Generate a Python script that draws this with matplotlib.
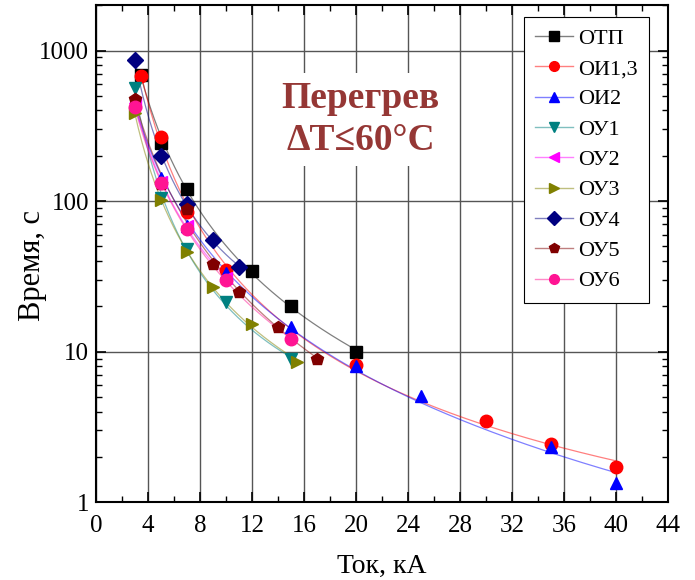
import matplotlib.pyplot as plt
import numpy as np
from matplotlib.colors import to_rgba
from matplotlib.ticker import MultipleLocator, FixedLocator, LogLocator, NullFormatter

plt.rcParams['font.family'] = ['Liberation Serif', 'DejaVu Serif']

# current, kA / time, s
otp_x = [3.5, 5, 7, 12, 15, 20]
otp_y = [690, 245, 121, 34.5, 20, 10]
oi13_x = [3.5, 5, 7, 10, 20, 30, 35, 40]
oi13_y = [680, 265, 85, 35, 8.2, 3.45, 2.45, 1.72]
oi2_x = [3, 5, 7, 10, 15, 20, 25, 35, 40]
oi2_y = [460, 142, 68, 33.5, 14.5, 8.0, 5.05, 2.32, 1.34]
oy1_x = [3, 5, 7, 10, 15]
oy1_y = [560, 105, 48, 21.5, 8.9]
oy2_x = [3, 5, 7, 10]
oy2_y = [450, 135, 68, 31]
oy3_x = [3, 5, 7, 9, 12, 15.5]
oy3_y = [385, 101, 46, 27, 15.2, 8.5]
oy4_x = [3, 5, 7, 9, 11]
oy4_y = [870, 200, 95, 55, 36.5]
oy5_x = [3, 5, 7, 9, 11, 14, 17]
oy5_y = [480, 130, 88, 38, 25, 14.7, 9.0]
oy6_x = [3, 5, 7, 10, 15]
oy6_y = [420, 131, 65, 30, 12.1]

series = [
    ('ОТП', otp_x, otp_y, 'black', 's'),
    ('ОИ1,3', oi13_x, oi13_y, 'red', 'o'),
    ('ОИ2', oi2_x, oi2_y, 'blue', '^'),
    ('ОУ1', oy1_x, oy1_y, '#008080', 'v'),
    ('ОУ2', oy2_x, oy2_y, '#ff00ff', '<'),
    ('ОУ3', oy3_x, oy3_y, '#808000', '>'),
    ('ОУ4', oy4_x, oy4_y, '#000080', 'D'),
    ('ОУ5', oy5_x, oy5_y, '#800000', 'p'),
    ('ОУ6', oy6_x, oy6_y, '#ff1493', 'o'),
]

fig = plt.figure(figsize=(6.95, 5.8), dpi=100)
ax = fig.add_axes([0.138, 0.134, 0.823, 0.857])
ax.set_yscale('log')

for name, x, y, c, m in series:
    x = np.array(x, dtype=float)
    y = np.array(y, dtype=float)
    lc = to_rgba(c, 0.5)
    # smooth fit line (quadratic in log-log)
    p = np.polyfit(np.log(x), np.log(y), 2)
    xx = np.linspace(x.min(), x.max(), 200)
    ax.plot(xx, np.exp(np.polyval(p, np.log(xx))), color=lc, lw=0.9, zorder=2)
    ax.plot(x, y, ls='none', marker=m, color=c, ms=9 if m != 'D' else 8, zorder=3)
    ax.plot([], [], color=lc, lw=1, marker=m, mfc=c, mec=c, ms=7, label=name)

ax.set_xlim(0, 44)
ax.set_ylim(1, 2000)
ax.xaxis.set_major_locator(MultipleLocator(4))
ax.xaxis.set_minor_locator(MultipleLocator(2))
ax.yaxis.set_major_locator(FixedLocator([1, 10, 100, 1000]))
ax.yaxis.set_minor_locator(LogLocator(base=10, subs=np.arange(2, 10)))
ax.yaxis.set_minor_formatter(NullFormatter())
ax.set_yticklabels(['1', '10', '100', '1000'])
ax.tick_params(which='both', direction='in', top=True, right=True, labelsize=18)
ax.tick_params(which='major', length=7, width=1.2, pad=5)
ax.tick_params(axis='x', which='major', pad=9)
ax.tick_params(which='minor', length=4, width=1)
ax.grid(True, which='major', color='#555555', lw=1)
for s in ax.spines.values():
    s.set_linewidth(1.5)

ax.set_xlabel('Ток, кА', fontsize=20, labelpad=12)
ax.set_ylabel('Время, с', fontsize=22)
ax.yaxis.set_label_coords(-0.086, 0.477)

ax.text(0.463, 0.77, 'Перегрев\nΔT≤60°C', transform=ax.transAxes, fontsize=27,
        fontweight='bold', color='#953735', ha='center', va='center', linespacing=1.25,
        bbox=dict(facecolor='white', edgecolor='none', pad=6), zorder=4)

leg = ax.legend(loc='upper right', bbox_to_anchor=(0.967, 0.976), borderaxespad=0,
                fontsize=16, frameon=True, fancybox=False, edgecolor='black',
                framealpha=1, handlelength=1.7, labelspacing=0.44, borderpad=0.5,
                handletextpad=0.25)
leg.get_frame().set_linewidth(0.8)

fig.savefig('out.png', dpi=100)
